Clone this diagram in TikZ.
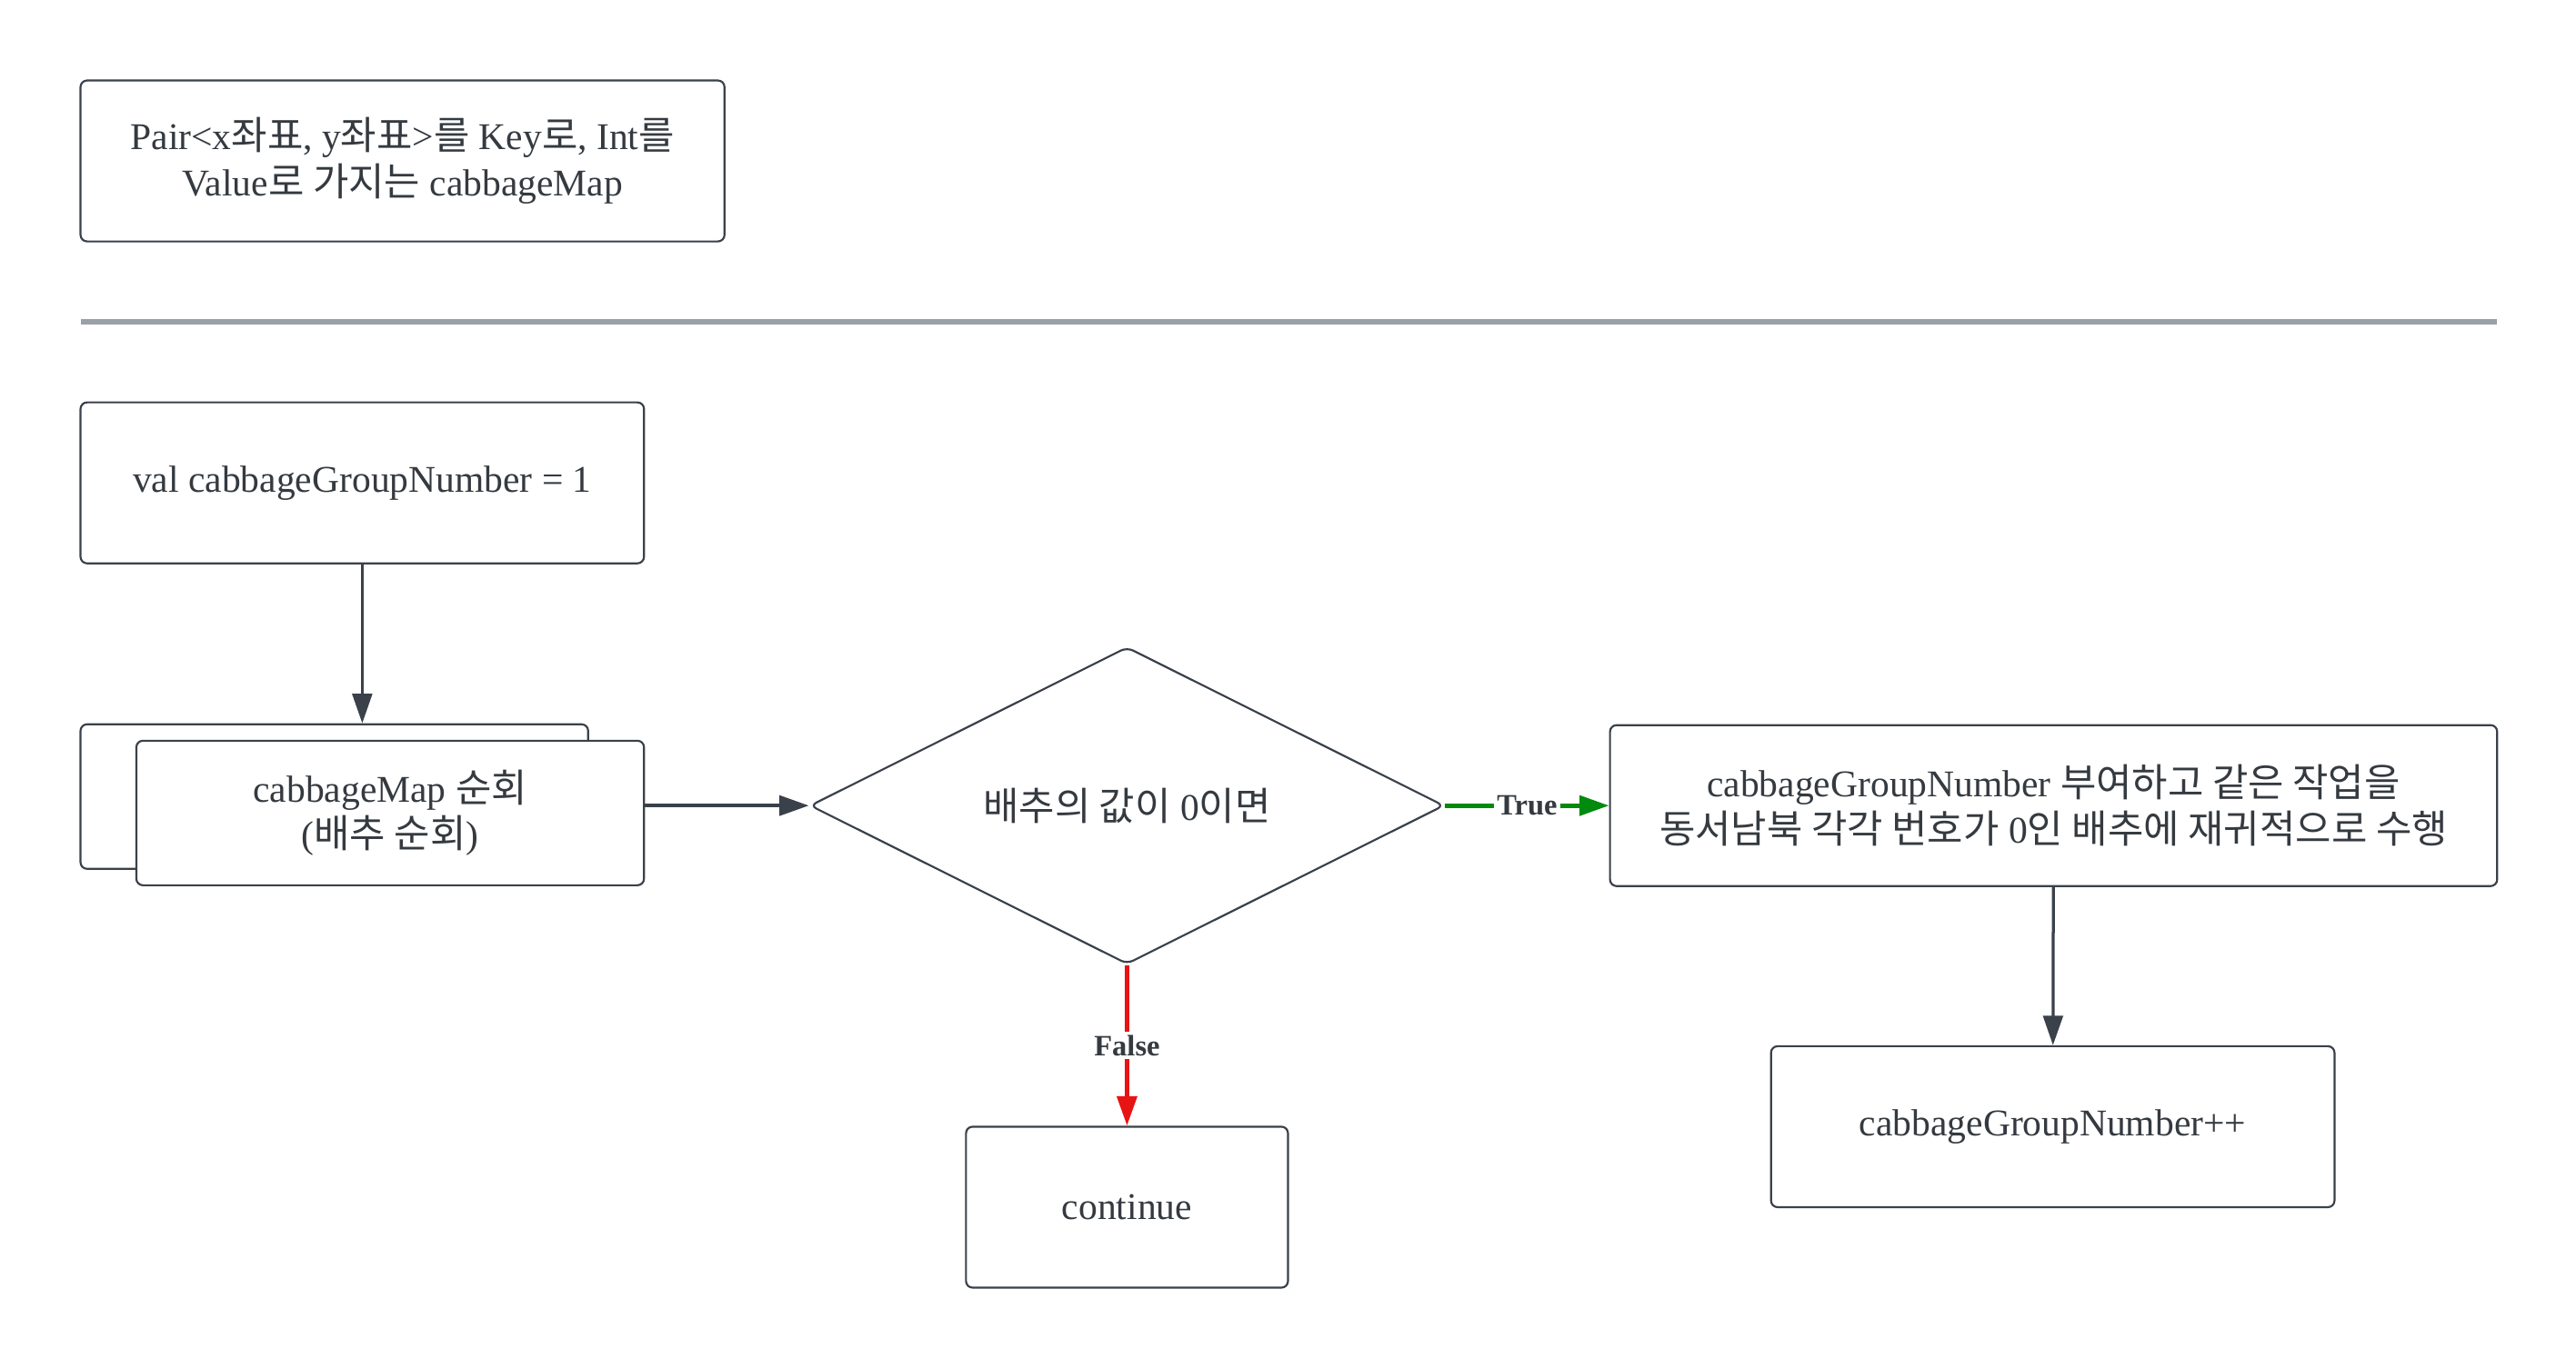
\documentclass[tikz,border=0pt]{standalone}
\usepackage{fontspec}
\setmainfont{Liberation Serif}
\newfontfamily\krfont[Scale=1.03]{Noto Sans CJK KR}
\newcommand{\hg}[1]{{\krfont #1}}
\usepackage{xcolor}
\usepackage{tikz}
\usetikzlibrary{positioning,shapes.geometric,arrows.meta}

\definecolor{linegray}{HTML}{3A414A}
\definecolor{textgray}{HTML}{343A40}
\definecolor{sepgray}{HTML}{9AA0A6}
\definecolor{truegreen}{HTML}{008A0E}
\definecolor{falsered}{HTML}{E81313}

\begin{document}
\begin{tikzpicture}[x=0.5pt, y=-0.5pt,
    block/.style={rectangle, draw=linegray, line width=0.6pt, rounded corners=2pt, fill=white, text=textgray, align=center, font=\fontsize{11.5}{14}\selectfont, inner sep=0pt},
    decision/.style={diamond, aspect=2, draw=linegray, line width=0.6pt, rounded corners=2pt, fill=white, text=textgray, font=\fontsize{11.5}{14}\selectfont, minimum width=193pt, minimum height=96.5pt, inner sep=0pt},
    arrow/.style={-{Triangle[length=9pt,width=6pt]}, draw=linegray, line width=0.9pt},
    truearrow/.style={-{Triangle[length=9pt,width=6pt]}, draw=truegreen, line width=1.3pt},
    falsearrow/.style={-{Triangle[length=9pt,width=6pt]}, draw=falsered, line width=1.3pt},
    branch/.style={font=\bfseries\fontsize{9}{10}\selectfont, text=textgray, fill=white, inner sep=1pt}]

    \useasboundingbox (0,0) rectangle (1568,833.5);

    % legend box and separator
    \node[block, minimum width=196pt, minimum height=49pt] (mapdef) at (245,98)
        {Pair<x\hg{좌표}, y\hg{좌표}>\hg{를} Key\hg{로}, Int\hg{를}\\Value\hg{로 가지는} cabbageMap};
    \draw[sepgray, line width=1.5pt] (49,196) -- (1520,196);

    % flow
    \node[block, minimum width=171.5pt, minimum height=49pt] (init) at (220.5,294) {val cabbageGroupNumber = 1};
    \node[block, minimum width=154.5pt, minimum height=44pt] (loopback) at (203.5,485) {};
    \node[block, minimum width=154.5pt, minimum height=44pt] (loop) at (237.5,495)
        {cabbageMap \hg{순회}\\(\hg{배추 순회})};
    \node[decision] (check) at (686,490.5) {\hg{배추의 값이} 0\hg{이면}};
    \node[block, minimum width=270pt, minimum height=49pt] (assign) at (1250,490.5)
        {cabbageGroupNumber \hg{부여하고 같은 작업을}\\\hg{동서남북 각각 번호가} 0\hg{인 배추에 재귀적으로 수행}};
    \node[block, minimum width=171.5pt, minimum height=49pt] (incr) at (1249.5,686) {cabbageGroupNumber++};
    \node[block, minimum width=98pt, minimum height=49pt] (skip) at (686,735) {continue};

    \draw[arrow] (init.south) -- (init.south |- loopback.north);
    \draw[arrow, line width=1.2pt] (loop.east |- check.west) -- (check.west);
    \draw[truearrow] (check) -- node[branch] {True} (assign);
    \draw[falsearrow] (check) -- node[branch] {False} (skip);
    \draw[arrow] (assign) -- (incr);
\end{tikzpicture}
\end{document}
